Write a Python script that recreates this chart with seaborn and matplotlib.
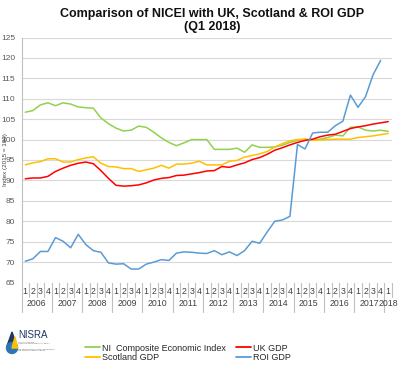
import numpy as np
import pandas as pd
import matplotlib
matplotlib.use('Agg')
import matplotlib.pyplot as plt
from matplotlib.lines import Line2D
from matplotlib.patches import Circle, Polygon
import seaborn as sns

# quarterly index values, 2006 Q1 .. 2018 Q1 (2015 = 100)
years = [str(y) for y in range(2006, 2019)]
quarter_labels = ['1', '2', '3', '4'] * 12 + ['1']

nicei = [106.7, 107.1, 108.5, 109.0, 108.3, 109.0, 108.7, 108.0, 107.8, 107.7,
         105.3, 103.9, 102.8, 102.1, 102.3, 103.3, 103.0, 101.8, 100.4, 99.3,
         98.5, 99.2, 100.0, 100.0, 100.0, 97.6, 97.6, 97.6, 97.9, 96.9,
         98.7, 98.1, 98.1, 98.2, 98.6, 99.3, 99.8, 100.1, 99.9, 100.1,
         100.5, 101.1, 100.9, 103.0, 103.1, 102.3, 102.1, 102.3, 102.0]

uk_gdp = [90.4, 90.6, 90.6, 91.0, 92.2, 93.0, 93.7, 94.2, 94.5, 94.1,
          92.4, 90.5, 88.8, 88.6, 88.7, 88.9, 89.4, 90.1, 90.5, 90.7,
          91.2, 91.3, 91.6, 91.9, 92.3, 92.4, 93.4, 93.2, 93.8, 94.3,
          95.1, 95.6, 96.4, 97.4, 98.0, 98.7, 99.3, 99.8, 100.1, 100.7,
          101.1, 101.3, 102.0, 102.7, 103.1, 103.4, 103.8, 104.1, 104.4]

scotland_gdp = [93.8, 94.3, 94.6, 95.3, 95.3, 94.5, 94.5, 95.1, 95.5, 95.8,
                94.2, 93.4, 93.3, 92.9, 92.9, 92.2, 92.6, 93.0, 93.7, 93.0,
                94.0, 94.0, 94.2, 94.7, 93.8, 93.8, 93.8, 94.7, 94.9, 95.7,
                96.1, 96.5, 97.1, 98.2, 99.0, 99.7, 100.0, 100.1, 99.8, 99.9,
                100.0, 100.1, 100.1, 100.1, 100.5, 100.7, 100.9, 101.2, 101.5]

roi_gdp = [70.2, 70.8, 72.6, 72.6, 76.0, 75.1, 73.5, 76.8, 74.3, 72.8,
           72.4, 69.8, 69.5, 69.6, 68.3, 68.3, 69.5, 70.0, 70.6, 70.4,
           72.2, 72.5, 72.4, 72.2, 72.1, 72.8, 71.8, 72.5, 71.6, 72.8,
           75.1, 74.6, 77.4, 80.0, 80.3, 81.2, 98.8, 97.7, 101.6, 101.8,
           101.8, 103.4, 104.5, 110.9, 107.9, 110.5, 115.9, 119.4, np.nan]

series_names = ['NI  Composite Economic Index', 'Scotland GDP', 'UK GDP', 'ROI GDP']
colors = {'NI  Composite Economic Index': '#92D050',
          'Scotland GDP': '#FFC000',
          'UK GDP': '#FF0000',
          'ROI GDP': '#5B9BD5'}

# long format table for seaborn
n = len(quarter_labels)
df = pd.DataFrame({
    'idx': np.tile(np.arange(n), 4),
    'value': nicei + scotland_gdp + uk_gdp + roi_gdp,
    'series': np.repeat(series_names, n),
})
df = df.dropna()

sns.set_style('white')
plt.rcParams['font.family'] = ['Liberation Sans', 'DejaVu Sans']

fig = plt.figure(figsize=(4.0, 3.66), dpi=100)
ax = fig.add_axes([21.5 / 400, 1 - 282.5 / 366, 370.5 / 400, 245 / 366])

# draw in legend order so red/blue sit on top like the original
for name in series_names:
    sns.lineplot(data=df[df['series'] == name], x='idx', y='value',
                 color=colors[name], linewidth=1.1, ax=ax, legend=False)

ax.set_xlim(-0.5, n - 0.5)
ax.set_ylim(65, 125)
ax.set_yticks(np.arange(65, 126, 5))
ax.yaxis.grid(True, color='#D9D9D9', linewidth=0.8)
ax.set_axisbelow(True)
for side in ['top', 'right', 'bottom']:
    ax.spines[side].set_visible(False)
ax.spines['left'].set_color('#BFBFBF')
ax.spines['left'].set_linewidth(0.8)
ax.tick_params(axis='y', length=2.5, width=0.8, color='#BFBFBF',
               labelsize=6, labelcolor='#595959', pad=2)

ax.set_xticks(np.arange(n))
ax.set_xticklabels(quarter_labels)
ax.tick_params(axis='x', length=0, labelsize=6.3, labelcolor='#404040', pad=3)
ax.set_xlabel('')
ax.set_ylabel('Index (2015 = 100)', fontsize=4.5, color='#404040')
ax.yaxis.set_label_coords(-0.036, 0.5)

# two-level category axis: quarter and year separators
trans = ax.get_xaxis_transform()
for b in range(n + 1):
    x = b - 0.5
    if b % 4 == 0:
        ax.plot([x, x], [0, -0.12], color='#BFBFBF', lw=0.8,
                transform=trans, clip_on=False)
    else:
        ax.plot([x, x], [0, -0.06], color='#BFBFBF', lw=0.8,
                transform=trans, clip_on=False)
for k, yr in enumerate(years):
    start = 4 * k
    end = min(start + 3, n - 1)
    ax.text((start + end) / 2, -0.087, yr, transform=trans, ha='center',
            va='center', fontsize=6.3, color='#404040')

fig.text(0.53, 0.978, 'Comparison of NICEI with UK, Scotland & ROI GDP\n(Q1 2018)',
         ha='center', va='top', fontsize=9, fontweight='bold',
         color='#111111', linespacing=1.12)

handles = [Line2D([0], [0], color=colors[s], lw=1.3) for s in series_names]
fig.legend(handles, series_names, ncol=2, loc='center',
           bbox_to_anchor=(0.47, 0.036), frameon=False, fontsize=6.5,
           handlelength=1.7, handletextpad=0.2, columnspacing=1.1,
           labelspacing=0.05, borderpad=0)

# rough NISRA logo
lax = fig.add_axes([4 / 400, 4 / 366, 46 / 400, 36 / 366])
lax.set_xlim(0, 46)
lax.set_ylim(0, 36)
lax.axis('off')
lax.add_patch(Polygon([[8, 30], [3, 16], [13, 16]], closed=True, color='#1F3864'))
lax.add_patch(Circle((8, 14), 5.5, color='#2E75B6'))
lax.add_patch(Polygon([[8, 14], [13.5, 14], [11, 25]], closed=True, color='#FFC000'))
lax.text(14, 27, 'NISRA', fontsize=7, color='#1F3864', va='center', ha='left')
lax.text(14, 19, 'Northern Ireland\nStatistics and Research Agency',
         fontsize=1.6, color='#666666', va='center', ha='left')
lax.text(14, 12, 'Gníomhaireacht Thuaisceart Éireann\num Staitisticí agus Taighde',
         fontsize=1.6, color='#666666', va='center', ha='left')

fig.savefig('out.png', dpi=100)
